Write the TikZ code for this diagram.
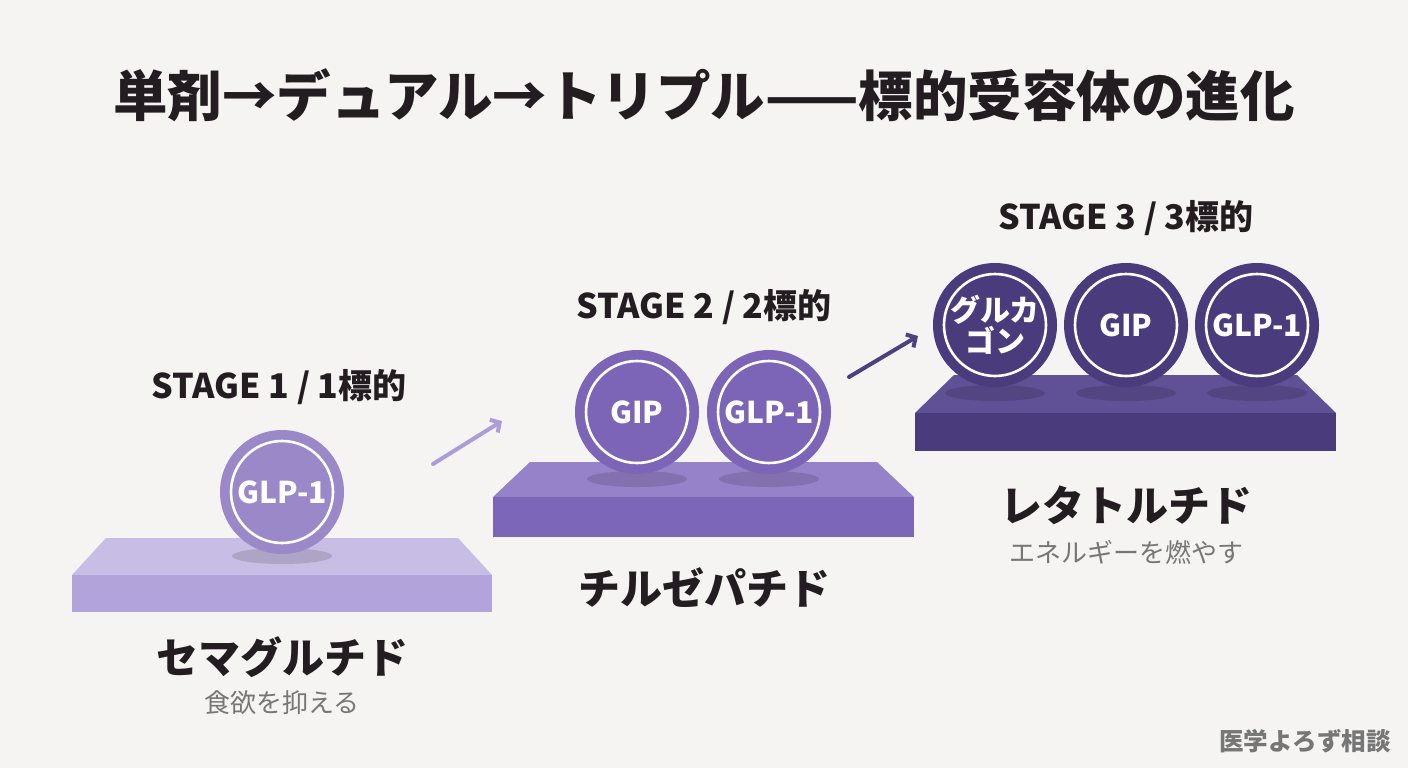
\documentclass[tikz,border=0pt]{standalone}
\usepackage{fontspec}
\setmainfont{Noto Sans CJK JP}
\usetikzlibrary{arrows.meta, positioning}

\definecolor{bgpaper}{RGB}{245,244,243}
\definecolor{inkdark}{RGB}{35,28,32}
\definecolor{inkgrey}{RGB}{118,118,118}
\definecolor{oneTop}{RGB}{200,189,228}
\definecolor{oneFront}{RGB}{178,163,218}
\definecolor{oneDisc}{RGB}{155,136,201}
\definecolor{twoTop}{RGB}{150,130,200}
\definecolor{twoFront}{RGB}{124,102,184}
\definecolor{twoDisc}{RGB}{124,101,183}
\definecolor{threeTop}{RGB}{96,80,150}
\definecolor{threeFront}{RGB}{74,60,124}
\definecolor{threeDisc}{RGB}{74,60,124}
\definecolor{arrowOne}{RGB}{172,156,216}
\definecolor{arrowTwo}{RGB}{78,64,128}

\begin{document}
\begin{tikzpicture}[
  x=1pt, y=-1pt,
  every node/.style={inner sep=0pt},
  headline/.style={font=\fontsize{54.5}{60}\selectfont\bfseries, text=inkdark},
  stagelbl/.style={font=\fontsize{34}{38}\selectfont\bfseries, text=inkdark},
  drugname/.style={font=\fontsize{42}{46}\selectfont\bfseries, text=inkdark},
  effect/.style={font=\fontsize{26}{28}\selectfont, text=inkgrey},
  disc/.style={circle, minimum size=124pt, text=white, align=center,
               font=\fontsize{30}{31}\selectfont\bfseries,
               path picture={\draw[white, line width=2.6pt]
                 (path picture bounding box.center) circle (51pt);}},
  shade/.style={fill=black, fill opacity=0.13},
  riser/.style={-{Straight Barb[length=7pt, width=15pt]}, line width=4pt,
                line cap=round},
]
  \fill[bgpaper] (0,0) rectangle (1408,768);
  \useasboundingbox (0,0) rectangle (1408,768);

  \node[headline] (title) at (704,95) {単剤→デュアル→トリプル——標的受容体の進化};

  % platforms: top face, then front face
  \foreach \xa/\xb/\yt/\yf/\yb/\ins/\ctop/\cfront in
     {72/492/538/575/612/34/oneTop/oneFront,
      493/914/462/497/537/37/twoTop/twoFront,
      915/1336/375/413/451/39/threeTop/threeFront}
  {
    \fill[\ctop] (\xa+\ins,\yt) -- (\xb-\ins,\yt) -- (\xb,\yf) -- (\xa,\yf) -- cycle;
    \fill[\cfront] (\xa,\yf) rectangle (\xb,\yb);
  }

  % contact shadows
  \foreach \cx/\cy in {282/556, 637/479, 769/479, 995/393, 1126/393, 1257/393}
    \fill[shade] (\cx,\cy) ellipse (50 and 8);

  % Stage 1
  \node[stagelbl] (s1head) at (279,387) {STAGE 1 / 1標的};
  \node[disc, fill=oneDisc] (s1glp) at (282,492) {GLP-1};
  \node[drugname] (s1drug) at (282,657) {セマグルチド};
  \node[effect] (s1eff) at (282,703) {食欲を抑える};

  % Stage 2
  \node[stagelbl] (s2head) at (704,307) {STAGE 2 / 2標的};
  \node[disc, fill=twoDisc] (s2gip) at (637,412) {GIP};
  \node[disc, fill=twoDisc] (s2glp) at (769,412) {GLP-1};
  \node[drugname] (s2drug) at (704,588) {チルゼパチド};

  % Stage 3
  \node[stagelbl] (s3head) at (1126,218) {STAGE 3 / 3標的};
  \node[disc, fill=threeDisc] (s3gcg) at (995,325) {グルカ\\ゴン};
  \node[disc, fill=threeDisc] (s3gip) at (1126,325) {GIP};
  \node[disc, fill=threeDisc] (s3glp) at (1257,325) {GLP-1};
  \node[drugname] (s3drug) at (1126,505) {レタトルチド};
  \node[effect] (s3eff) at (1126,552) {エネルギーを燃やす};

  % step arrows
  \coordinate (up1from) at (433,464);
  \coordinate (up1to)   at (502,421);
  \coordinate (up2from) at (849,377);
  \coordinate (up2to)   at (918,336);
  \draw[riser, arrowOne] (up1from) -- (up1to);
  \draw[riser, arrowTwo] (up2from) -- (up2to);

  \node[font=\fontsize{24.5}{26}\selectfont\bfseries, text=inkgrey]
       (mark) at (1305,741) {医学よろず相談};
\end{tikzpicture}
\end{document}
